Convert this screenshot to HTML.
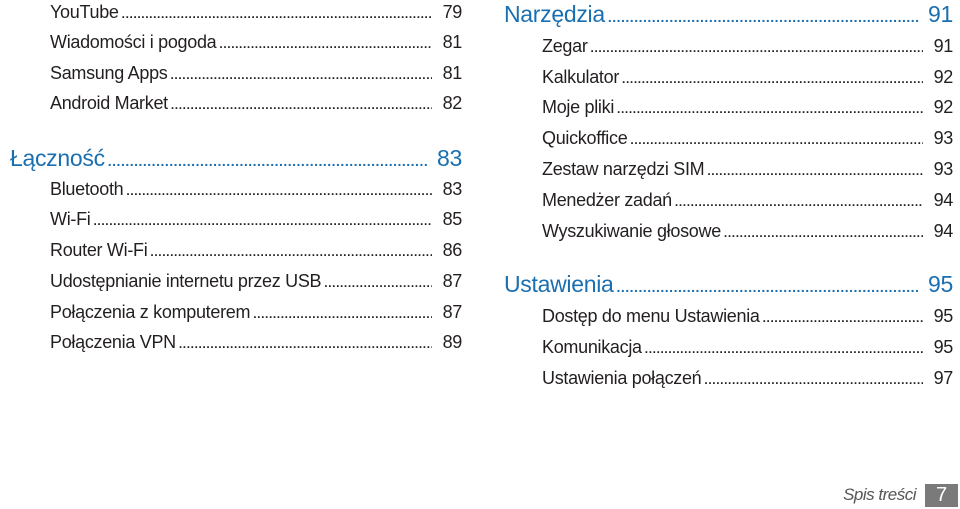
<!DOCTYPE html>
<html><head><meta charset="utf-8"><style>
body{margin:0;width:960px;height:509px;background:#fff;position:relative;overflow:hidden;font-family:"Liberation Sans",sans-serif;color:#231f20}
.r{position:absolute;display:flex;align-items:baseline;white-space:nowrap;font-size:18px;letter-spacing:-0.3px;height:26px;line-height:26px}
.r .t{flex:none;padding-right:3px}
.r .d{flex:1;overflow:hidden;font-size:12px;font-weight:bold;letter-spacing:0.6px}
.r .d::after{content:"................................................................................................................................................................................................"}
.r .n{flex:none;padding-left:4px;width:26px;text-align:right}
.h{color:#1a6fb0;font-size:23px;height:30px;line-height:30px}
.h .d{font-size:14px;font-weight:bold;letter-spacing:0.5px}
.h .n{width:30px}
</style></head><body>
<div class="r" style="left:50px;width:412px;top:-1px"><span class="t">YouTube</span><span class="d"></span><span class="n">79</span></div>
<div class="r" style="left:50px;width:412px;top:29px"><span class="t">Wiadomości i pogoda</span><span class="d"></span><span class="n">81</span></div>
<div class="r" style="left:50px;width:412px;top:60px"><span class="t">Samsung Apps</span><span class="d"></span><span class="n">81</span></div>
<div class="r" style="left:50px;width:412px;top:90px"><span class="t">Android Market</span><span class="d"></span><span class="n">82</span></div>
<div class="r h" style="left:10px;width:452px;top:143px"><span class="t">Łączność</span><span class="d"></span><span class="n">83</span></div>
<div class="r" style="left:50px;width:412px;top:176px"><span class="t">Bluetooth</span><span class="d"></span><span class="n">83</span></div>
<div class="r" style="left:50px;width:412px;top:206px"><span class="t">Wi-Fi</span><span class="d"></span><span class="n">85</span></div>
<div class="r" style="left:50px;width:412px;top:237px"><span class="t">Router Wi-Fi</span><span class="d"></span><span class="n">86</span></div>
<div class="r" style="left:50px;width:412px;top:268px"><span class="t">Udostępnianie internetu przez USB</span><span class="d"></span><span class="n">87</span></div>
<div class="r" style="left:50px;width:412px;top:299px"><span class="t">Połączenia z komputerem</span><span class="d"></span><span class="n">87</span></div>
<div class="r" style="left:50px;width:412px;top:329px"><span class="t">Połączenia VPN</span><span class="d"></span><span class="n">89</span></div>

<div class="r h" style="left:504px;width:449px;top:-1px"><span class="t">Narzędzia</span><span class="d"></span><span class="n">91</span></div>
<div class="r" style="left:542px;width:411px;top:33px"><span class="t">Zegar</span><span class="d"></span><span class="n">91</span></div>
<div class="r" style="left:542px;width:411px;top:64px"><span class="t">Kalkulator</span><span class="d"></span><span class="n">92</span></div>
<div class="r" style="left:542px;width:411px;top:94px"><span class="t">Moje pliki</span><span class="d"></span><span class="n">92</span></div>
<div class="r" style="left:542px;width:411px;top:125px"><span class="t">Quickoffice</span><span class="d"></span><span class="n">93</span></div>
<div class="r" style="left:542px;width:411px;top:156px"><span class="t">Zestaw narzędzi SIM</span><span class="d"></span><span class="n">93</span></div>
<div class="r" style="left:542px;width:411px;top:187px"><span class="t">Menedżer zadań</span><span class="d"></span><span class="n">94</span></div>
<div class="r" style="left:542px;width:411px;top:218px"><span class="t">Wyszukiwanie głosowe</span><span class="d"></span><span class="n">94</span></div>
<div class="r h" style="left:504px;width:449px;top:269px"><span class="t">Ustawienia</span><span class="d"></span><span class="n">95</span></div>
<div class="r" style="left:542px;width:411px;top:303px"><span class="t">Dostęp do menu Ustawienia</span><span class="d"></span><span class="n">95</span></div>
<div class="r" style="left:542px;width:411px;top:334px"><span class="t">Komunikacja</span><span class="d"></span><span class="n">95</span></div>
<div class="r" style="left:542px;width:411px;top:365px"><span class="t">Ustawienia połączeń</span><span class="d"></span><span class="n">97</span></div>

<div style="position:absolute;right:44px;top:485px;font-size:17px;font-style:italic;color:#555;letter-spacing:-0.5px">Spis treści</div>
<div style="position:absolute;left:925px;top:484px;width:33px;height:23px;background:#7a7a7a;color:#fff;font-size:20px;text-align:center;line-height:23px">7</div>
</body></html>
